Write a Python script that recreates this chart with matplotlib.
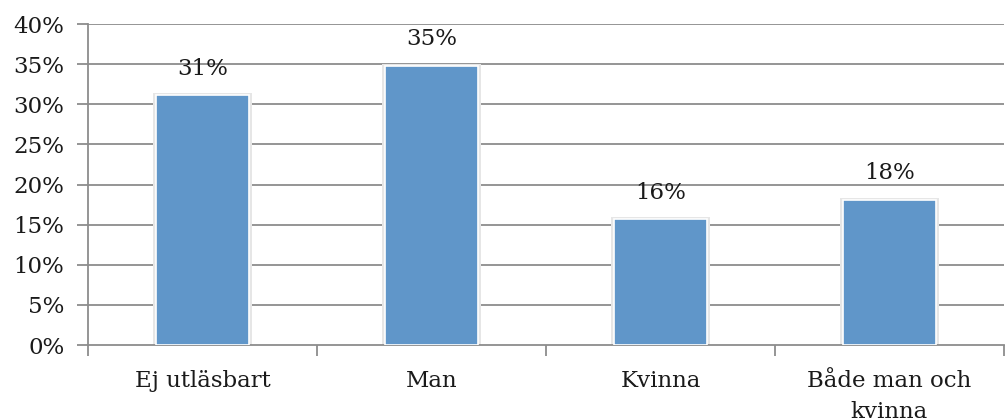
import matplotlib.pyplot as plt
import numpy as np

# Data
kategorier = ['Ej utläsbart', 'Man', 'Kvinna', 'Både man och\nkvinna']
andelar = [31.1, 34.8, 15.7, 18.1]
etiketter = ['31%', '35%', '16%', '18%']
yticks = np.arange(0, 41, 5)

plt.rcParams['font.family'] = ['DejaVu Serif']

fig = plt.figure(figsize=(10.06, 4.19), dpi=100)
ax = fig.add_axes([0.0875, 0.1766, 0.9105, 0.7661])

grid_color = '#8c8c8c'
text_color = '#1a1a1a'
fs = 16.5
x = np.arange(len(kategorier))

# Gridlines
for t in yticks[1:]:
    ax.axhline(t, color=grid_color, lw=1.3, zorder=1)

# Bars with soft shadow
ax.bar(x, np.array(andelar) + 0.25, width=0.43, color='#e6e6e6', zorder=2)
ax.bar(x, andelar, width=0.41, color='#6096c9', edgecolor='white', lw=1.2, zorder=3)

for xi, v, lab in zip(x, andelar, etiketter):
    ax.text(xi, v + 3.3, lab, ha='center', va='center', fontsize=fs, color=text_color)

ax.set_xlim(-0.5, len(kategorier) - 0.5)
ax.set_ylim(0, 40)
ax.set_yticks(yticks)
ax.set_yticklabels([f'{t}%' for t in yticks], fontsize=fs, color=text_color)

ax.set_xticks(x)
ax.set_xticklabels(kategorier, fontsize=fs, color=text_color, linespacing=1.55)
ax.tick_params(axis='x', length=0, pad=18)
ax.set_xticks(np.arange(-0.5, len(kategorier) + 0.5, 1), minor=True)
ax.tick_params(axis='x', which='minor', length=8, color=grid_color, width=1.3, direction='out')
ax.tick_params(axis='y', length=8, color=grid_color, width=1.3, pad=9)

for s in ['top', 'right']:
    ax.spines[s].set_visible(False)
for s in ['left', 'bottom']:
    ax.spines[s].set_color(grid_color)
    ax.spines[s].set_linewidth(1.3)

fig.savefig('out.png', dpi=100)
